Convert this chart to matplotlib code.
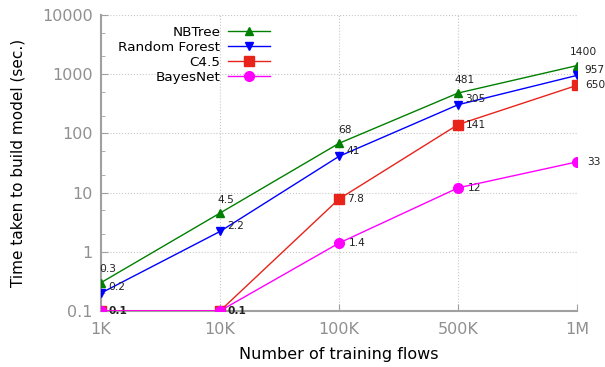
import matplotlib
matplotlib.use("Agg")
import matplotlib.pyplot as plt
from matplotlib.ticker import FixedLocator, NullFormatter

flows = ["1K", "10K", "100K", "500K", "1M"]
nbtree = [0.3, 4.5, 68, 481, 1400]
random_forest = [0.2, 2.2, 41, 305, 957]
c45 = [0.1, 0.1, 7.8, 141, 650]
bayesnet = [0.1, 0.1, 1.4, 12, 33]
y_ticks = [0.1, 1, 10, 100, 1000, 10000]
y_tick_labels = ["0.1", "1", "10", "100", "1000", "10000"]

plt.rcParams['font.family'] = ['DejaVu Sans']

fig = plt.figure(figsize=(6.05, 3.67), dpi=100)
ax = fig.add_axes([0.167, 0.153, 0.787, 0.806])

x = list(range(len(flows)))

ax.plot(x, nbtree, color="#008000", lw=1, marker="^", ms=6, label="NBTree", zorder=3)
ax.plot(x, random_forest, color="#0000ff", lw=1, marker="v", ms=6, label="Random Forest", zorder=3)
ax.plot(x, c45, color="#e8231a", lw=1, marker="s", ms=7, label="C4.5", zorder=3)
ax.plot(x, bayesnet, color="#ff00ff", lw=1, marker="o", ms=7, label="BayesNet", zorder=4)

# value labels
lab_kw = dict(fontsize=7.7, color="#222222")
for xi, v in zip(x, nbtree):
    ax.annotate(f"{v:g}", (xi, v), xytext=(4.5, 6), textcoords="offset points",
                ha="center", va="bottom", **lab_kw)
for xi, v in zip(x, random_forest):
    ax.annotate(f"{v:g}", (xi, v), xytext=(5, 4), textcoords="offset points",
                ha="left", va="center", **lab_kw)
for xi, v in zip(x, c45):
    ax.annotate(f"{v:g}", (xi, v), xytext=(5.5, 0), textcoords="offset points",
                ha="left", va="center", fontweight="bold" if v == 0.1 else "normal",
                fontsize=7.7, color="#222222")
for xi, v in zip(x[2:], bayesnet[2:]):
    ax.annotate(f"{v:g}", (xi, v), xytext=(7, 0), textcoords="offset points",
                ha="left", va="center", **lab_kw)

ax.set_yscale("log")
ax.set_ylim(0.1, 10000)
ax.set_xlim(0, 4)
ax.set_xticks(x)
ax.set_xticklabels(flows)
ax.yaxis.set_major_locator(FixedLocator(y_ticks))
ax.set_yticklabels(y_tick_labels)
ax.yaxis.set_minor_locator(FixedLocator([m * 10.0 ** e for e in range(-1, 4) for m in (2, 5)]))
ax.yaxis.set_minor_formatter(NullFormatter())

ax.grid(True, which="major", color="#c8c8c8", linestyle=":", lw=0.8)
for s in ["top", "right"]:
    ax.spines[s].set_visible(False)
for s in ["left", "bottom"]:
    ax.spines[s].set_color("#a0a0a0")
    ax.spines[s].set_linewidth(1.5)

ax.tick_params(axis="both", which="major", direction="in", length=5, color="#a0a0a0",
               labelcolor="#909090", labelsize=11.5, pad=6)
ax.tick_params(axis="x", which="major", pad=8)
ax.tick_params(axis="y", which="minor", direction="in", length=3, color="#a0a0a0")

ax.set_xlabel("Number of training flows", fontsize=11.5, labelpad=7)
ax.set_ylabel("Time taken to build model (sec.)", fontsize=11, labelpad=12)

leg = ax.legend(loc="upper left", bbox_to_anchor=(0.019, 0.99), frameon=False, markerfirst=False,
                fontsize=9.7, handlelength=3.1, labelspacing=0.15, borderaxespad=0.2,
                handletextpad=0.6)
for t in leg.get_texts():
    t.set_ha("right")
leg._legend_box.align = "right"

fig.savefig("out.png", dpi=100)
